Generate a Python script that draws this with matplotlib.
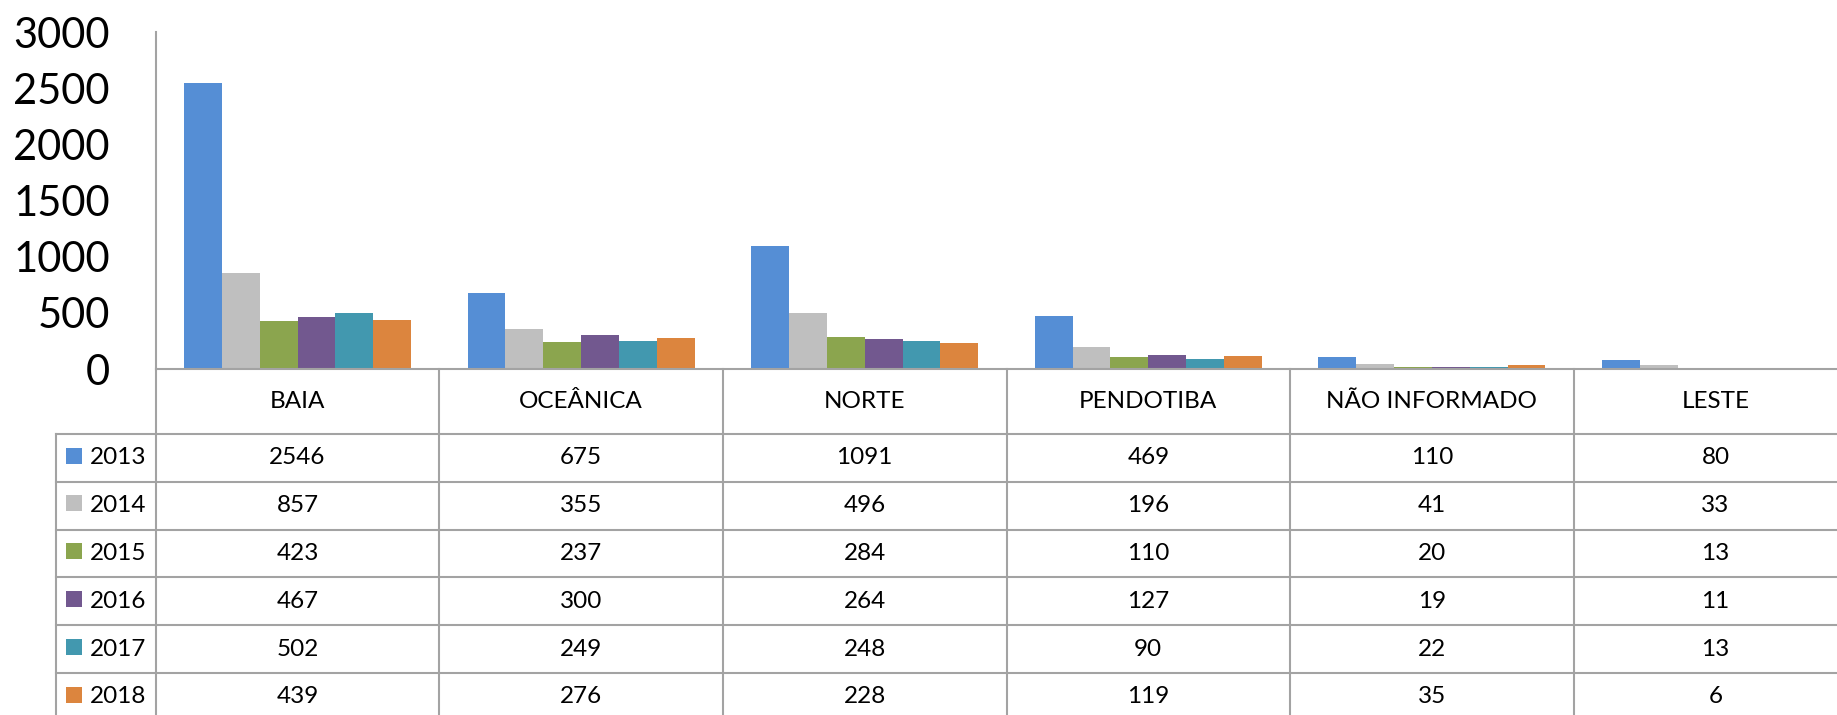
import matplotlib.pyplot as plt
import numpy as np

plt.rcParams['font.family'] = ['Lato', 'DejaVu Sans']

regions = ['BAIA', 'OCEÂNICA', 'NORTE', 'PENDOTIBA', 'NÃO INFORMADO', 'LESTE']
years = ['2013', '2014', '2015', '2016', '2017', '2018']
v2013 = [2546, 675, 1091, 469, 110, 80]
v2014 = [857, 355, 496, 196, 41, 33]
v2015 = [423, 237, 284, 110, 20, 13]
v2016 = [467, 300, 264, 127, 19, 11]
v2017 = [502, 249, 248, 90, 22, 13]
v2018 = [439, 276, 228, 119, 35, 6]
series = [v2013, v2014, v2015, v2016, v2017, v2018]
colors = ['#558ED5', '#BFBFBF', '#8BA54E', '#72588F', '#4298AF', '#DC853E']
yticks = [0, 500, 1000, 1500, 2000, 2500, 3000]

W, H = 1837, 715
grid = '#A3A3A3'

# layout in pixels
x0 = 155.7        # y axis
colw = 283.6      # one category column
y_zero = 369
y_top = 32
hdr_h = 65
row_h = 47.8
leg_left = 55.7

fig = plt.figure(figsize=(W / 100, H / 100), dpi=100)
n = len(regions)
ax = fig.add_axes([x0 / W, 1 - y_zero / H, n * colw / W, (y_zero - y_top) / H])
ax.set_xlim(-0.5, n - 0.5)
ax.set_ylim(0, 3000)

x = np.arange(n)
bw = 0.8 / len(series)
for j, vals in enumerate(series):
    ax.bar(x + (j - 2.5) * bw, vals, width=bw, color=colors[j], linewidth=0)

ax.set_yticks(yticks)
ax.set_yticklabels([str(t) for t in yticks], fontsize=30)
ax.tick_params(axis='y', length=0, pad=33)
ax.set_xticks([])
for s in ['top', 'right']:
    ax.spines[s].set_visible(False)
for s in ['left', 'bottom']:
    ax.spines[s].set_color(grid)
    ax.spines[s].set_linewidth(1.5)

# data table under the chart
bottom_px = y_zero + hdr_h + len(years) * row_h
tab = fig.add_axes([leg_left / W, 1 - bottom_px / H, (x0 + n * colw - leg_left) / W, (bottom_px - y_zero) / H])
legw = (x0 - leg_left) / colw
hdr = hdr_h / row_h
tab.set_xlim(-0.5 - legw, n - 0.5)
tab.set_ylim(len(years), -hdr)
tab.axis('off')

def cx(px):
    return -0.5 + (px - x0) / colw

for k in range(n + 1):
    tab.plot([k - 0.5, k - 0.5], [-hdr, len(years)], color=grid, lw=1.5, clip_on=False)
tab.plot([-0.5 - legw, -0.5 - legw], [0, len(years)], color=grid, lw=1.5, clip_on=False)
for r in range(len(years) + 1):
    tab.plot([-0.5 - legw, n - 0.5], [r, r], color=grid, lw=1.5, clip_on=False)

for i, name in enumerate(regions):
    tab.text(i, -hdr / 2, name, ha='center', va='center', fontsize=17.5)

for r, (yr, vals) in enumerate(zip(years, series)):
    tab.scatter([cx(74.3)], [r + 0.45], marker='s', s=142, color=colors[r], linewidths=0)
    tab.text(cx(90), r + 0.5, yr, ha='left', va='center', fontsize=17.5)
    for i, v in enumerate(vals):
        tab.text(i, r + 0.5, str(v), ha='center', va='center', fontsize=17.5)

fig.savefig('out.png', dpi=100)
